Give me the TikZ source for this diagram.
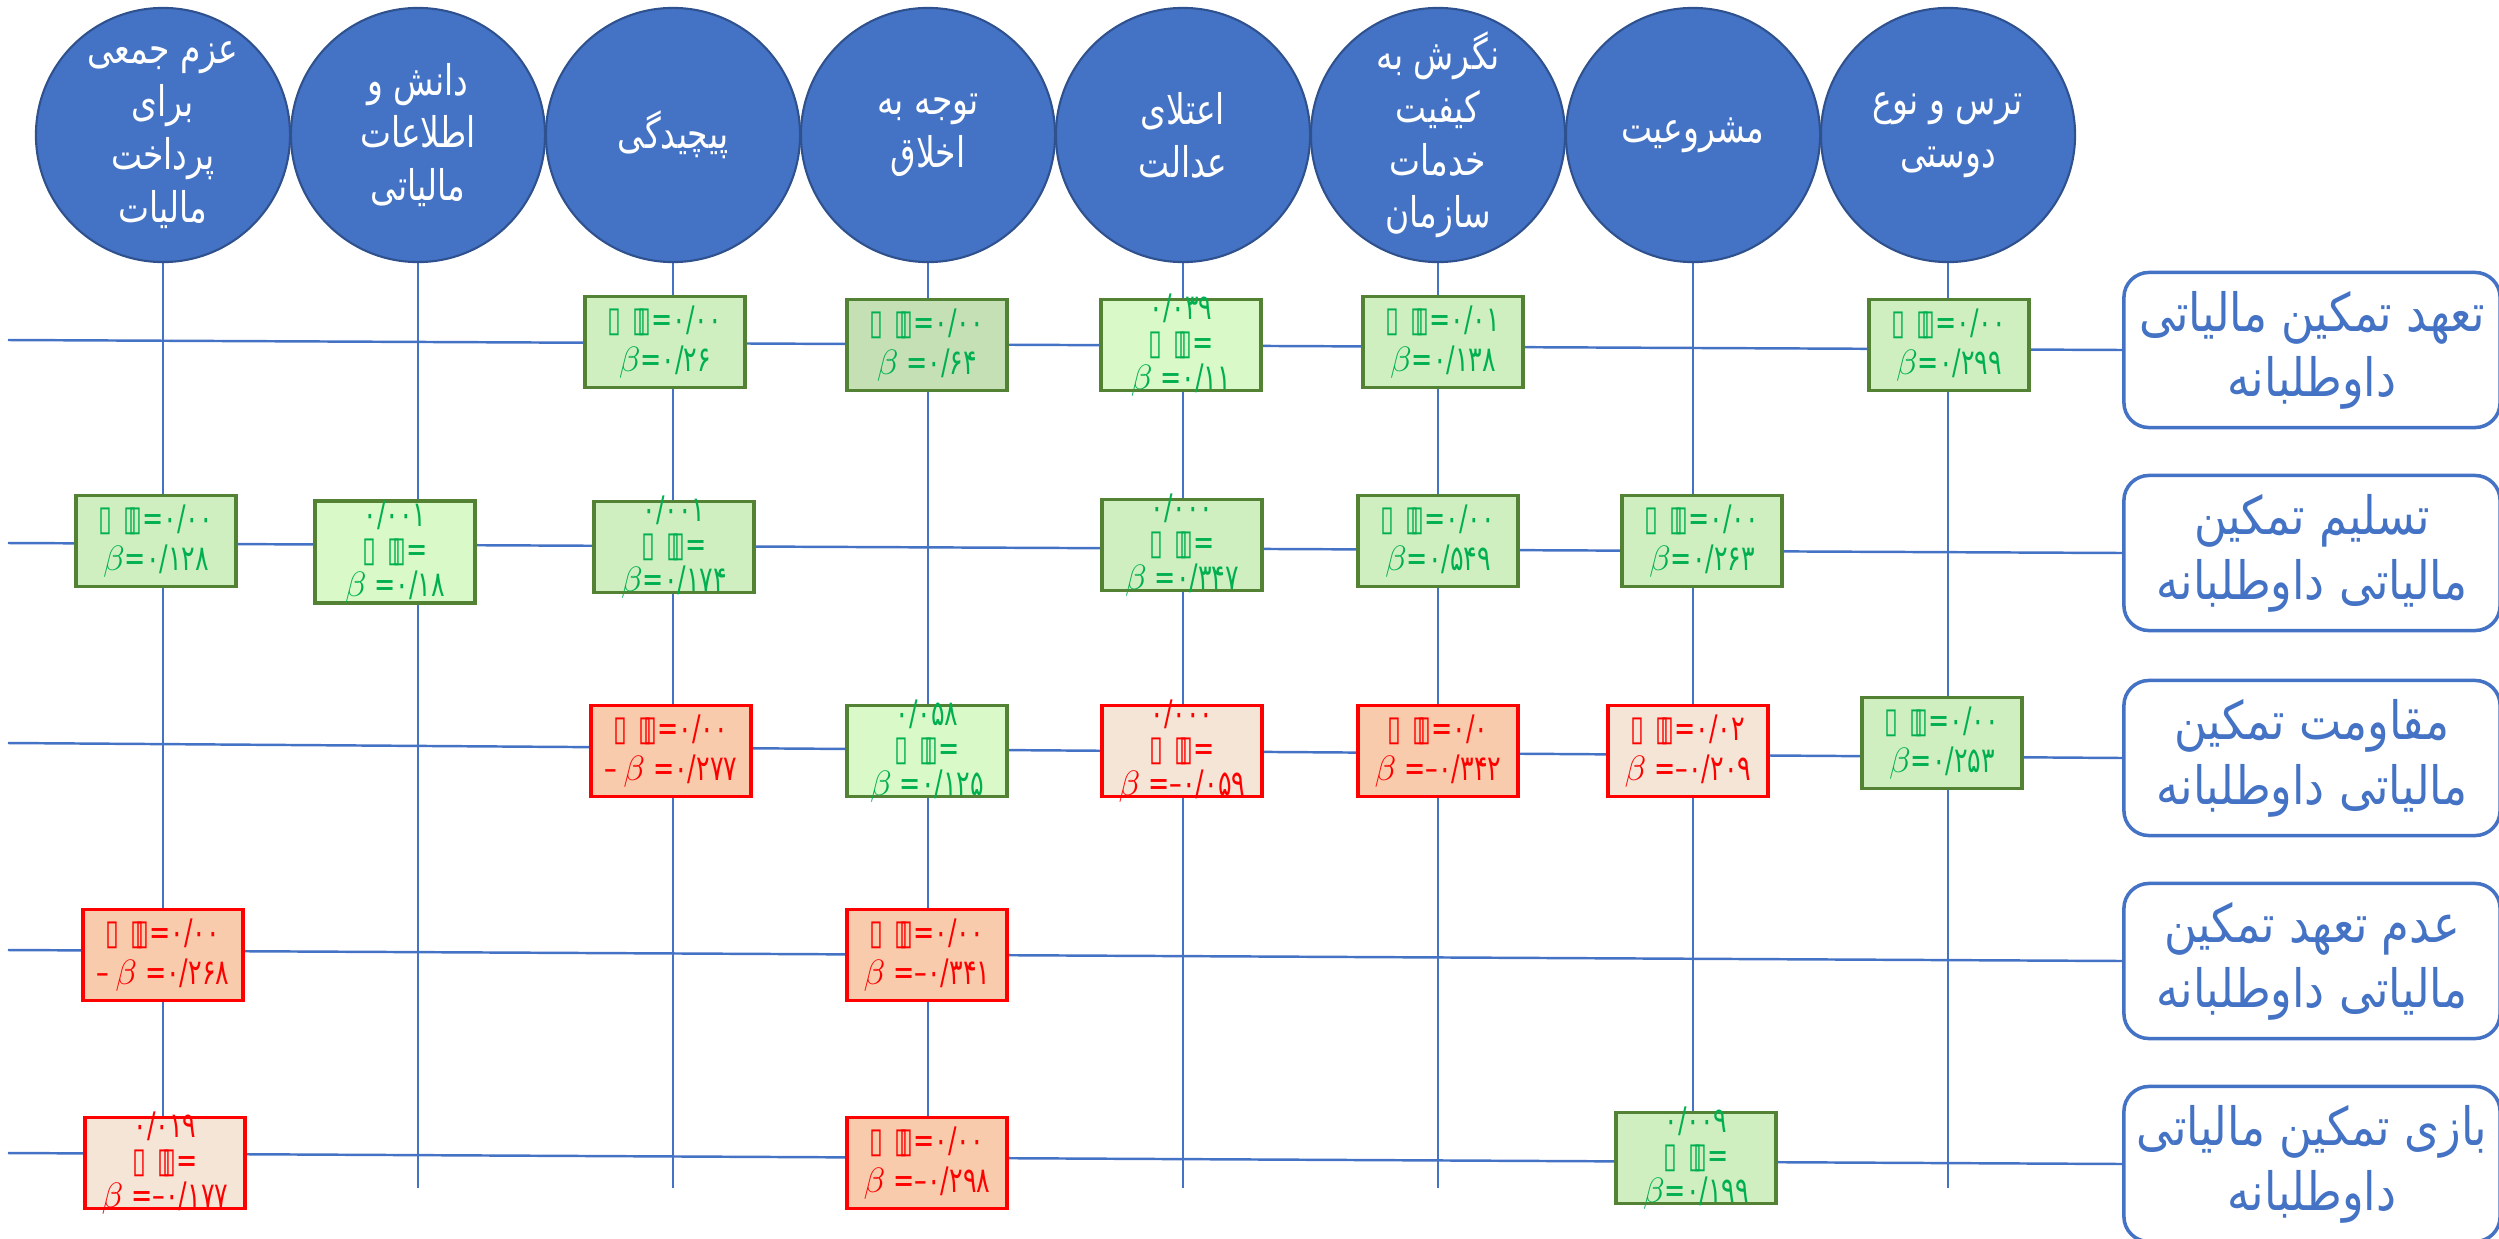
\documentclass[tikz,border=0pt]{standalone}
\usepackage{fontspec}
\usetikzlibrary{backgrounds}
\TeXXeTstate=1
\newfontfamily\farsifont[Script=Arabic,FakeStretch=0.85]{DejaVu Sans}
\newfontfamily\circfont[Script=Arabic,FakeStretch=0.78]{DejaVu Sans}
\newfontfamily\numfont[FakeStretch=0.72]{DejaVu Sans}
\definecolor{circblue}{HTML}{4472C4}
\definecolor{circedge}{HTML}{2F528F}
\definecolor{posedge}{HTML}{548235}
\definecolor{postext}{HTML}{00B050}
\definecolor{posfill}{HTML}{D0EFC0}
\definecolor{posdark}{HTML}{C5E0B4}
\definecolor{poslight}{HTML}{DAF9C9}
\definecolor{negfill}{HTML}{F8CBAD}
\definecolor{neglight}{HTML}{F4E5D6}
\newcommand{\sig}{▯\hspace{0.3em}▯\kern-0.25em▯}
\newcommand{\fa}[1]{\beginR #1\endR}
\begin{document}
\begin{tikzpicture}[x=0.01cm,y=-0.01cm]
  \tikzstyle{factor}=[circle,draw=circedge,line width=0.6pt,fill=circblue,minimum size=2.54cm,inner sep=0pt,text=white,align=center,font=\circfont\fontsize{12}{15}\selectfont]
  \tikzstyle{outcome}=[rectangle,rounded corners=0.25cm,draw=circblue,line width=1pt,fill=white,minimum width=3.76cm,minimum height=1.55cm,text=circblue,align=center,font=\farsifont\fontsize{15}{18.5}\selectfont]
  \tikzstyle{cell}=[rectangle,line width=1pt,minimum width=1.6cm,minimum height=0.91cm,inner sep=0pt]
  \tikzstyle{posbox}=[cell,draw=posedge,fill=posfill]
  \tikzstyle{posdbox}=[cell,draw=posedge,fill=posdark]
  \tikzstyle{poslbox}=[cell,draw=posedge,fill=poslight]
  \tikzstyle{negbox}=[cell,draw=red,fill=negfill]
  \tikzstyle{neglbox}=[cell,draw=red,fill=neglight]
  \tikzstyle{twoline}=[align=center,inner sep=0pt,font=\numfont\fontsize{10}{11.4}\selectfont]
  \tikzstyle{threeline}=[align=center,inner sep=0pt,font=\numfont\fontsize{10}{10}\selectfont]
  \tikzstyle{link}=[draw=circblue,line width=0.5pt]
  \useasboundingbox (0,0) rectangle (2499,1239);

  % factors
  \node [factor] (f1) at (163,135) {\fa{عزم جمعی}\\\fa{برای}\\\fa{پرداخت}\\\fa{مالیات}};
  \node [factor] (f2) at (418,135) {\fa{دانش و}\\\fa{اطلاعات}\\\fa{مالیاتی}};
  \node [factor] (f3) at (673,135) {\fa{پیچیدگی}};
  \node [factor] (f4) at (928,135) {\fa{توجه به}\\\fa{اخلاق}};
  \node [factor] (f5) at (1183,135) {\fa{اعتلای}\\\fa{عدالت}};
  \node [factor] (f6) at (1438,135) {\fa{نگرش به}\\\fa{کیفیت}\\\fa{خدمات}\\\fa{سازمان}};
  \node [factor] (f7) at (1693,135) {\fa{مشروعیت}};
  \node [factor] (f8) at (1948,135) {\fa{ترس و نوع}\\\fa{دوستی}};

  % outcomes
  \node [outcome] (o1) at (2312,350) {\fa{تعهد تمکین مالیاتی}\\\fa{داوطلبانه}};
  \node [outcome] (o2) at (2312,553) {\fa{تسلیم تمکین}\\\fa{مالیاتی داوطلبانه}};
  \node [outcome] (o3) at (2312,758) {\fa{مقاومت تمکین}\\\fa{مالیاتی داوطلبانه}};
  \node [outcome] (o4) at (2312,961) {\fa{عدم تعهد تمکین}\\\fa{مالیاتی داوطلبانه}};
  \node [outcome] (o5) at (2312,1164) {\fa{بازی تمکین مالیاتی}\\\fa{داوطلبانه}};

  % row 1
  \node [posbox] (c13) at (665,342) {};
  \node [twoline,text=postext] (t13) at (c13) {\sig=۰/۰۰\\$\beta$=۰/۲۶};
  \node [posdbox] (c14) at (927,345) {};
  \node [twoline,text=postext] (t14) at (c14) {\sig=۰/۰۰\\$\beta$ =۰/۶۴};
  \node [poslbox] (c15) at (1181,345) {};
  \node [threeline,text=postext] (t15) at (c15) {۰/۰۳۹\\\sig=\\$\beta$ =۰/۱۱};
  \node [posbox] (c16) at (1443,342) {};
  \node [twoline,text=postext] (t16) at (c16) {\sig=۰/۰۱\\$\beta$=۰/۱۳۸};
  \node [posbox] (c18) at (1949,345) {};
  \node [twoline,text=postext] (t18) at (c18) {\sig=۰/۰۰\\$\beta$=۰/۲۹۹};

  % row 2
  \node [posbox] (c21) at (156,541) {};
  \node [twoline,text=postext] (t21) at (c21) {\sig=۰/۰۰\\$\beta$=۰/۱۲۸};
  \node [poslbox,minimum height=1.02cm] (c22) at (395,552) {};
  \node [threeline,text=postext] (t22) at (c22) {۰/۰۰۱\\\sig=\\$\beta$ =۰/۱۸};
  \node [posbox] (c23) at (674,547) {};
  \node [threeline,text=postext] (t23) at (c23) {۰/۰۰۱\\\sig=\\$\beta$=۰/۱۷۴};
  \node [posbox] (c25) at (1182,545) {};
  \node [threeline,text=postext] (t25) at (c25) {۰/۰۰۰\\\sig=\\$\beta$ =۰/۳۴۷};
  \node [posbox] (c26) at (1438,541) {};
  \node [twoline,text=postext] (t26) at (c26) {\sig=۰/۰۰\\$\beta$=۰/۵۴۹};
  \node [posbox] (c27) at (1702,541) {};
  \node [twoline,text=postext] (t27) at (c27) {\sig=۰/۰۰\\$\beta$=۰/۲۶۳};

  % row 3
  \node [negbox] (c33) at (671,751) {};
  \node [twoline,text=red] (t33) at (c33) {\sig=۰/۰۰\\–\,$\beta$ =۰/۲۷۷};
  \node [poslbox] (c34) at (927,751) {};
  \node [threeline,text=postext] (t34) at (c34) {۰/۰۵۸\\\sig=\\$\beta$ =۰/۱۲۵};
  \node [neglbox] (c35) at (1182,751) {};
  \node [threeline,text=red] (t35) at (c35) {۰/۰۰۰\\\sig=\\$\beta$ =–۰/۰۵۹};
  \node [negbox] (c36) at (1438,751) {};
  \node [twoline,text=red] (t36) at (c36) {\sig=۰/۰\\$\beta$ =–۰/۳۴۲};
  \node [neglbox] (c37) at (1688,751) {};
  \node [twoline,text=red] (t37) at (c37) {\sig=۰/۰۲\\$\beta$ =–۰/۲۰۹};
  \node [posbox] (c38) at (1942,743) {};
  \node [twoline,text=postext] (t38) at (c38) {\sig=۰/۰۰\\$\beta$=۰/۲۵۳};

  % row 4
  \node [negbox] (c41) at (163,955) {};
  \node [twoline,text=red] (t41) at (c41) {\sig=۰/۰۰\\–\,$\beta$ =۰/۲۶۸};
  \node [negbox] (c44) at (927,955) {};
  \node [twoline,text=red] (t44) at (c44) {\sig=۰/۰۰\\$\beta$ =–۰/۳۴۱};

  % row 5
  \node [neglbox] (c51) at (165,1163) {};
  \node [threeline,text=red] (t51) at (c51) {۰/۰۱۹\\\sig=\\$\beta$ =–۰/۱۷۷};
  \node [negbox] (c54) at (927,1163) {};
  \node [twoline,text=red] (t54) at (c54) {\sig=۰/۰۰\\$\beta$ =–۰/۲۹۸};
  \node [posbox] (c57) at (1696,1158) {};
  \node [threeline,text=postext] (t57) at (c57) {۰/۰۰۹\\\sig=\\$\beta$=۰/۱۹۹};

  % grid lines
  \coordinate (h1) at (8,340);
  \coordinate (h2) at (8,543);
  \coordinate (h3) at (8,743);
  \coordinate (h4) at (8,950);
  \coordinate (h5) at (8,1153);
  \begin{pgfonlayer}{background}
    \foreach \i in {1,...,8} {
      \coordinate (v\i) at (f\i.south |- 0,1188);
      \path [link] (f\i.south) -- (v\i);
    }
    \foreach \i in {1,...,5} {
      \path [link,line width=0.7pt] (h\i) -- (o\i.west);
    }
  \end{pgfonlayer}
\end{tikzpicture}
\end{document}
